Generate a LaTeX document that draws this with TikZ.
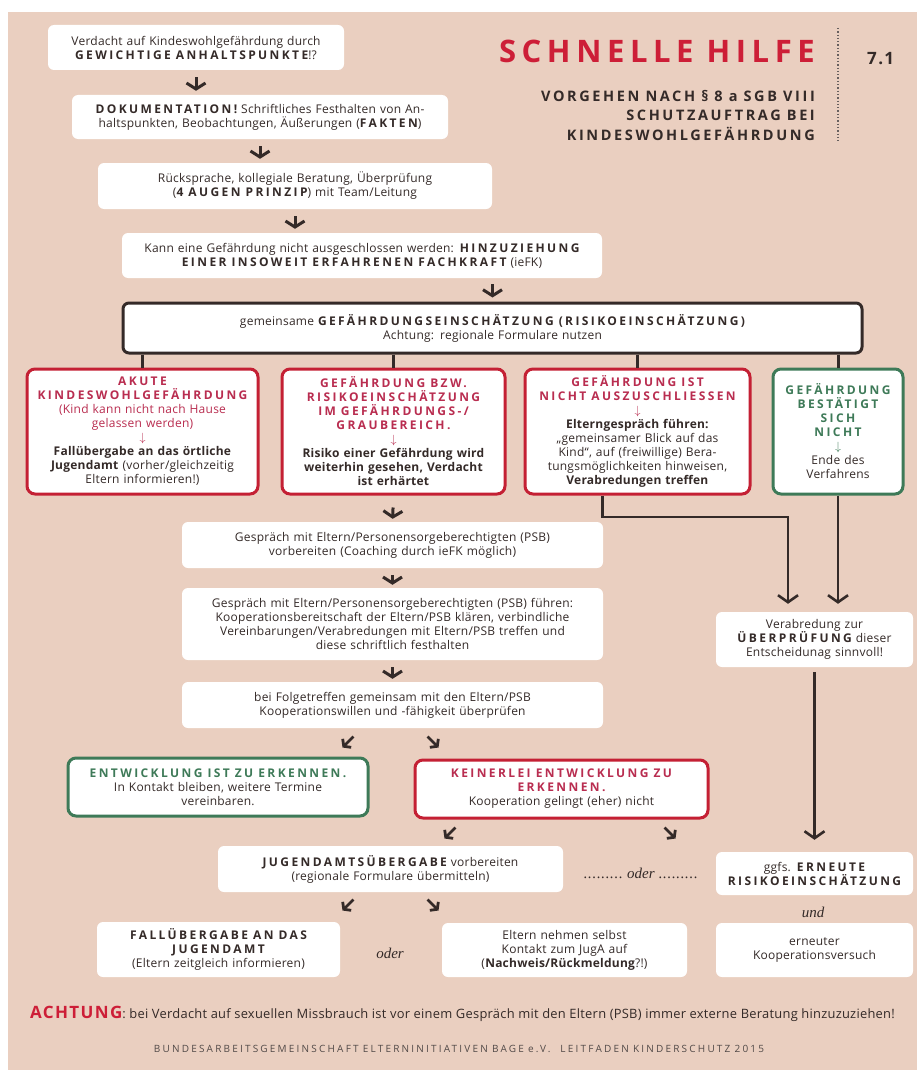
\documentclass[tikz,border=0pt]{standalone}
\usepackage{fontspec}
\setmainfont{Open Sans}[LetterSpace=2]
\newfontfamily\oderfont{Liberation Serif}
\usetikzlibrary{calc,arrows.meta,positioning}
\definecolor{peach}{RGB}{234,207,192}
\definecolor{hred}{RGB}{205,30,55}
\definecolor{bred}{RGB}{196,32,52}
\definecolor{tred}{RGB}{185,45,80}
\definecolor{bgreen}{RGB}{62,122,88}
\definecolor{ink}{RGB}{52,42,40}
\newcommand{\weit}{\spaceskip=.42em\relax}
\newcommand{\versal}[1]{{\bfseries\addfontfeature{LetterSpace=20}\weit#1}}
\newcommand{\punkte}{\hbox to 40pt{\leaders\hbox to 4.4pt{\hss.\hss}\hfill}}
\tikzset{
  wbox/.style 2 args={fill=white, rounded corners=6pt, align=center,
    text width=#1pt, minimum height=#2pt, inner xsep=0pt, inner ysep=1pt,
    text=ink, font=\fontsize{12}{14}\selectfont},
  redbox/.style 2 args={wbox={#1}{#2}, draw=bred, line width=3pt, rounded corners=8pt},
  greenbox/.style 2 args={wbox={#1}{#2}, draw=bgreen, line width=3pt, rounded corners=8pt},
  blackbox/.style 2 args={wbox={#1}{#2}, draw=ink, line width=3pt},
  conn/.style={draw=ink, line width=3pt},
  darr/.style={conn, -{Straight Barb[length=6pt,width=19pt]}},
  larr/.style={conn, line width=2.6pt, -{Straight Barb[length=7pt,width=20pt]}},
  oder/.style={font=\oderfont\itshape\fontsize{15}{16}\selectfont, text=ink},
  kopf/.style={anchor=base east, inner sep=0pt, text=ink, execute at begin node=\weit,
    font=\fontsize{14.5}{15}\selectfont\bfseries\addfontfeature{LetterSpace=18}},
}

\begin{document}
\begin{tikzpicture}[x=1pt,y=-1pt]
\useasboundingbox (0,0) rectangle (917,1070);
\fill[white] (0,0) rectangle (917,1070);
\fill[peach] (8,12) rectangle (917,1070);

% Kopf
\node[anchor=base east, inner sep=0pt, text=hred, execute at begin node=\weit,
  font=\fontsize{31}{32}\selectfont\bfseries\addfontfeature{LetterSpace=18}]
  (titel) at (815,63) {SCHNELLE HILFE};
\node[anchor=base west, inner sep=0pt, text=ink,
  font=\fontsize{17}{17}\selectfont\bfseries\addfontfeature{LetterSpace=8}] (nummer) at (867,65) {7.1};
\node[kopf] (sub1) at (815,102) {VORGEHEN NACH § 8 a SGB VIII};
\node[kopf] (sub2) at (815,121) {SCHUTZAUFTRAG BEI};
\node[kopf] (sub3) at (815,140) {KINDESWOHLGEFÄHRDUNG};
\draw[ink!75, line width=1.3pt, dotted] (838,28) -- (838,143);

% linke Spalte oben
\node[wbox={296}{45}] (verdacht) at (196,47.5)
  {Verdacht auf Kindeswohlgefährdung durch\\\versal{GEWICHTIGE ANHALTSPUNKTE}!?};
\node[wbox={376}{44}] (doku) at (260,117)
  {\versal{DOKUMENTATION!} Schriftliches Festhalten von An-\\haltspunkten, Beobachtungen, Äußerungen (\versal{FAKTEN})};
\node[wbox={394}{46}] (rueck) at (295,186)
  {Rücksprache, kollegiale Beratung, Überprüfung\\(\versal{4 AUGEN PRINZIP}) mit Team/Leitung};
\node[wbox={480}{45}] (kann) at (362,255.5)
  {Kann eine Gefährdung nicht ausgeschlossen werden: \versal{HINZUZIEHUNG}\\\versal{EINER INSOWEIT ERFAHRENEN FACHKRAFT} (ieFK)};
\node[blackbox={739}{50}] (gemeinsam) at (492.5,328)
  {gemeinsame \versal{GEFÄHRDUNGSEINSCHÄTZUNG (RISIKOEINSCHÄTZUNG)}\\Achtung: regionale Formulare nutzen};

% vier Einschaetzungen
\node[redbox={231}{125}] (akut) at (142.5,431.5)
  {{\color{tred}\versal{AKUTE}\\\versal{KINDESWOHLGEFÄHRDUNG}\\(Kind kann nicht nach Hause\\gelassen werden)\\$\downarrow$}\\
   \textbf{Fallübergabe an das örtliche}\\\textbf{Jugendamt} (vorher/gleichzeitig\\Eltern informieren!)};
\node[redbox={223}{125}] (grau) at (393.5,431.5)
  {{\color{tred}\versal{GEFÄHRDUNG BZW.}\\\versal{RISIKOEINSCHÄTZUNG}\\\versal{IM GEFÄHRDUNGS-/}\\\versal{GRAUBEREICH.}\\$\downarrow$}\\
   \textbf{Risiko einer Gefährdung wird}\\\textbf{weiterhin gesehen, Verdacht}\\\textbf{ist erhärtet}};
\node[redbox={225}{125}] (nicht) at (637.5,431.5)
  {{\color{tred}\versal{GEFÄHRDUNG IST}\\\versal{NICHT AUSZUSCHLIESSEN}\\$\downarrow$}\\
   \textbf{Elterngespräch führen:}\\„gemeinsamer Blick auf das\\Kind“, auf (freiwillige) Bera-\\tungsmöglichkeiten hinweisen,\\\textbf{Verabredungen treffen}};
\node[greenbox={130}{125}] (bestaetigt) at (838,431.5)
  {{\color{bgreen}\versal{GEFÄHRDUNG}\\\versal{BESTÄTIGT}\\\versal{SICH}\\\versal{NICHT}\\$\downarrow$}\\Ende des\\Verfahrens};

% mittlere Spalte
\node[wbox={421}{46}] (vorb) at (392.5,545)
  {Gespräch mit Eltern/Personensorgeberechtigten (PSB)\\vorbereiten (Coaching durch ieFK möglich)};
\node[wbox={421}{72}] (fuehren) at (392.5,624)
  {Gespräch mit Eltern/Personensorgeberechtigten (PSB) führen:\\Kooperationsbereitschaft der Eltern/PSB klären, verbindliche\\Vereinbarungen/Verabredungen mit Eltern/PSB treffen und\\diese schriftlich festhalten};
\node[wbox={421}{46}] (folge) at (392.5,705)
  {bei Folgetreffen gemeinsam mit den Eltern/PSB\\Kooperationswillen und -fähigkeit überprüfen};
\node[wbox={197}{55}] (verabr) at (814.5,639.5)
  {Verabredung zur\\\versal{ÜBERPRÜFUNG} dieser\\Entscheidunag sinnvoll!};

\node[greenbox={300}{58}] (entw) at (218,787)
  {{\color{bgreen}\versal{ENTWICKLUNG IST ZU ERKENNEN.}}\\In Kontakt bleiben, weitere Termine\\vereinbaren.};
\node[redbox={293}{58}] (keiner) at (561.5,789)
  {{\color{tred}\versal{KEINERLEI ENTWICKLUNG ZU}\\\versal{ERKENNEN.}}\\Kooperation gelingt (eher) nicht};

\node[wbox={345}{46}] (jug) at (390.5,869)
  {\versal{JUGENDAMTSÜBERGABE} vorbereiten\\(regionale Formulare übermitteln)};
\node[oder] (oder1) at (641,873) {\punkte\ oder \punkte};
\node[wbox={197}{43}] (ggfs) at (814.5,873.5)
  {ggfs. \versal{ERNEUTE}\\\versal{RISIKOEINSCHÄTZUNG}};
\node[oder] (und) at (813,912) {und};

\node[wbox={243}{55}] (fall) at (218.5,949.5)
  {\versal{FALLÜBERGABE AN DAS}\\\versal{JUGENDAMT}\\(Eltern zeitgleich informieren)};
\node[oder] (oder2) at (390,953) {oder};
\node[wbox={245}{54}] (eltern) at (564.5,950)
  {Eltern nehmen selbst\\Kontakt zum JugA auf\\(\textbf{Nachweis/Rückmeldung}?!)};
\node[wbox={197}{54}] (erneut) at (814.5,950)
  {erneuter\\Kooperationsversuch};

% Fuss
\node[anchor=base west, inner sep=0pt, text=ink,
  font=\fontsize{12.9}{13}\selectfont] (achtung) at (30,1018)
  {{\color{hred}\fontsize{17}{17}\selectfont\bfseries\addfontfeature{LetterSpace=8}ACHTUNG}: bei Verdacht auf sexuellen Missbrauch ist vor einem Gespräch mit den Eltern (PSB) immer externe Beratung hinzuzuziehen!};
\node[anchor=base, inner sep=0pt, text=ink!85, execute at begin node=\weit,
  font=\fontsize{10}{10}\selectfont\addfontfeature{LetterSpace=22}]
  (fuss) at (459,1052)
  {BUNDESARBEITSGEMEINSCHAFT ELTERNINITIATIVEN BAGE e.V.\quad LEITFADEN KINDERSCHUTZ 2015};

% Pfeile
\draw[darr, shorten <=7pt, shorten >=4pt] (verdacht.south) -- (verdacht.south |- doku.north);
\draw[darr, shorten <=7pt, shorten >=4pt] (doku.south) -- (doku.south |- rueck.north);
\draw[darr, shorten <=7pt, shorten >=4pt] (rueck.south) -- (rueck.south |- kann.north);
\draw[darr, shorten <=6pt, shorten >=4pt] (gemeinsam.north |- kann.south) -- (gemeinsam.north);
\foreach \b in {akut,grau,nicht,bestaetigt}
  \draw[conn] (\b.north |- gemeinsam.south) -- (\b.north);
\draw[darr, shorten <=12pt, shorten >=3pt] (grau.south) -- (vorb.north);
\draw[darr, shorten <=7pt, shorten >=3pt] (vorb.south) -- (fuehren.north);
\draw[darr, shorten <=7pt, shorten >=3pt] (fuehren.south) -- (folge.north);
\coordinate (knick) at (788,517);
\draw[larr, shorten >=8pt]
  ([xshift=-35pt]nicht.south) |- (knick) -- (knick |- verabr.north);
\draw[larr, shorten >=8pt] (bestaetigt.south) -- (bestaetigt.south |- verabr.north);
\draw[larr, shorten <=5pt, shorten >=12pt] (verabr.south) -- (verabr.south |- ggfs.north);
% schraege Pfeile
\foreach \n/\px/\py/\dx in {a/348/742/-1, b/433/742/1, c/450/833/-1,
    d/670/833/1, e/348/905/-1, f/433/905/1} {
  \coordinate (dg\n) at (\px,\py);
  \draw[conn, line width=2.8pt, -{Straight Barb[length=4.5pt,width=12pt]}]
    ($(dg\n)+(-5.5*\dx,-5.5)$) -- ($(dg\n)+(5.5*\dx,5.5)$);
}
\end{tikzpicture}
\end{document}
